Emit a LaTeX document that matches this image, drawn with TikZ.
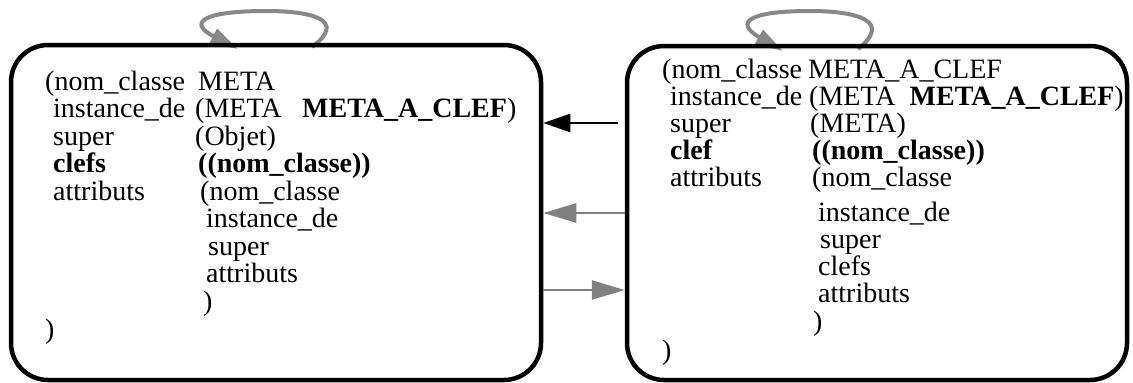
\documentclass[tikz,border=0pt]{standalone}
\usepackage{fontspec}
\setmainfont{Liberation Serif}
\usetikzlibrary{arrows.meta}
\definecolor{loopgray}{RGB}{136,136,136}
\definecolor{arrgray}{RGB}{128,128,128}
\begin{document}
\begin{tikzpicture}[x=1pt,y=-1pt,
  box/.style={draw=black, line width=4.5pt, rounded corners=37pt, inner sep=0pt},
  txt/.style={inner sep=0pt, anchor=base west, font=\fontsize{28}{28}\selectfont},
  txtb/.style={inner sep=0pt, anchor=base west, font=\fontsize{28}{28}\selectfont\bfseries},
  blackarrow/.style={draw=black, line width=2.5pt, -{Triangle[length=27pt,width=18pt]}},
  grayarrow/.style={draw=arrgray, line width=2.5pt, -{Triangle[length=33pt,width=19pt]}},
  selfloop/.style={draw=loopgray, line width=4pt, -{Triangle[length=28pt,width=16pt]}}
]
\useasboundingbox (0,0) rectangle (1133,383);
% self loops (drawn first, under box borders)
\coordinate (lls) at (312,47);
\coordinate (llt) at (266,11);
\coordinate (lle) at (238,49);
\draw[selfloop] (lls) .. controls (348,20) and (312,11) .. (llt) .. controls (205,11) and (186,22) .. (lle);
\coordinate (rls) at (858,49);
\coordinate (rlt) at (810,11);
\coordinate (rle) at (783,51);
\draw[selfloop] (rls) .. controls (893,21) and (857,11) .. (rlt) .. controls (750,11) and (733,22) .. (rle);
% boxes
\node[box, minimum width=530pt, minimum height=335pt] (L) at (276,212.5) {};
\node[box, minimum width=500pt, minimum height=334pt] (R) at (877,213) {};
% left box text
\node[txt] (l1a) at (45,90) {(nom\_classe};
\node[txt] (l1b) at (198,90) {META};
\node[txt] (l2a) at (53,117.5) {instance\_de};
\node[txt] (l2b) at (195,117.5) {(META};
\node[txt] (l2c) at (302,117.5) {\bfseries META\_A\_CLEF\mdseries)};
\node[txt] (l3a) at (53,145) {super};
\node[txt] (l3b) at (195,145) {(Objet)};
\node[txtb] (l4a) at (53,172.5) {clefs};
\node[txtb] (l4b) at (198,172.5) {((nom\_classe))};
\node[txt] (l5a) at (53,200) {attributs};
\node[txt] (l5b) at (200,200) {(nom\_classe};
\node[txt] (l6) at (206,227.5) {instance\_de};
\node[txt] (l7) at (208,255) {super};
\node[txt] (l8) at (206,282.5) {attributs};
\node[txt] (l9) at (203,310) {)};
\node[txt] (l10) at (45,338) {)};
% right box text
\node[txt] (r1a) at (662,78) {(nom\_classe};
\node[txt] (r1b) at (808,78) {META\_A\_CLEF};
\node[txt] (r2a) at (670,105) {instance\_de};
\node[txt] (r2b) at (809,105) {(META};
\node[txt, anchor=base east] (r2c) at (1124,105) {\bfseries META\_A\_CLEF\mdseries)};
\node[txt] (r3a) at (670,132) {super};
\node[txt] (r3b) at (810,132) {(META)};
\node[txtb] (r4a) at (670,159) {clef};
\node[txtb] (r4b) at (812,159) {((nom\_classe))};
\node[txt] (r5a) at (670,186) {attributs};
\node[txt] (r5b) at (812,186) {(nom\_classe};
\node[txt] (r6) at (818,221) {instance\_de};
\node[txt] (r7) at (820,248) {super};
\node[txt] (r8) at (818,275) {clefs};
\node[txt] (r9) at (818,302) {attributs};
\node[txt] (r10) at (813,330) {)};
\node[txt] (r11) at (662,359) {)};
% connectors
\coordinate (bs) at (618,123);
\draw[blackarrow] (bs) -- (L.east |- bs);
\coordinate (g1) at (600,213);
\draw[grayarrow] (R.west |- g1) -- (L.east |- g1);
\coordinate (g2) at (600,290);
\draw[grayarrow] (L.east |- g2) -- (R.west |- g2);
\end{tikzpicture}
\end{document}
